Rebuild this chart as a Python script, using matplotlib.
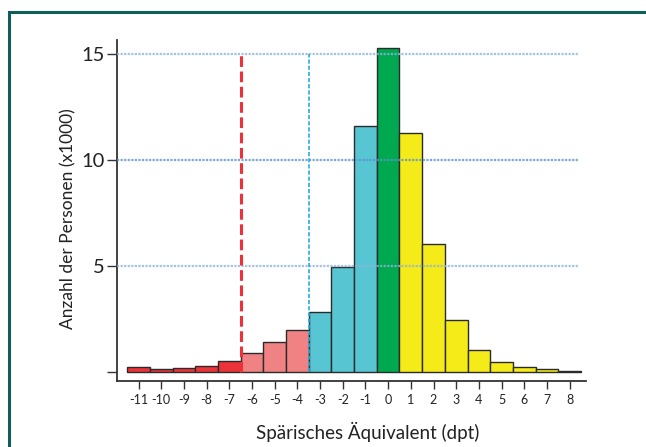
import numpy as np
import matplotlib
matplotlib.use("Agg")
import matplotlib.pyplot as plt
from matplotlib.patches import Rectangle

plt.rcParams['font.family'] = ['Lato', 'DejaVu Sans']

# Sphärisches Äquivalent (dpt) und Anzahl (x1000)
dpt = [-11, -10, -9, -8, -7, -6, -5, -4, -3, -2, -1, 0, 1, 2, 3, 4, 5, 6, 7, 8]
counts = [0.25, 0.13, 0.18, 0.30, 0.54, 0.89, 1.42, 2.00, 2.82, 4.97, 11.58, 15.25,
          11.28, 6.02, 2.47, 1.06, 0.49, 0.24, 0.14, 0.07]
groups = ['r'] * 5 + ['p'] * 3 + ['c'] * 3 + ['g'] + ['y'] * 8
group_colors = {'r': '#ec3339', 'p': '#f08283', 'c': '#58c5d2', 'g': '#00a84f', 'y': '#f5eb18'}

y_ticks = [0, 5, 10, 15]
y_ticklabels = ['', '5', '10', '15']
grid_levels = [5, 10, 15]
cut_red = -6.5
cut_blue = -3.5

fig = plt.figure(figsize=(6.46, 4.47), dpi=100)
ax = fig.add_axes([117 / 646, 1 - 381 / 447, (586 - 117) / 646, (381 - 40) / 447])

ax.bar(dpt, counts, width=1.0, color=[group_colors[g] for g in groups],
       edgecolor='#2b2b2b', linewidth=1.0, zorder=2)

for lvl in grid_levels:
    c = '#5a92d2' if lvl == 10 else '#8db4e2'
    ax.axhline(lvl, xmin=0, xmax=0.985, color=c, linestyle=(0, (1, 0.6)), linewidth=1.6,
               alpha=0.8, zorder=3)

ax.plot([cut_red, cut_red], [0, 15], color='#ee3039', linestyle=(0, (3.5, 1.5)), linewidth=2.2, zorder=4)
ax.plot([cut_blue, cut_blue], [0, 15], color='#2aa9e0', linestyle=(0, (2.5, 1.2)), linewidth=1.2, zorder=4)

ax.set_xlim(-11.95, 8.72)
ax.set_ylim(-0.42, 15.65)
ax.set_xticks(dpt)
ax.set_xticklabels([str(d) for d in dpt], fontsize=9, color='#222222')
ax.set_yticks(y_ticks)
ax.set_yticklabels(y_ticklabels, fontsize=14.5, color='#222222')
ax.tick_params(axis='x', length=6, width=1, color='#333333', pad=3)
ax.tick_params(axis='y', length=7, width=1, color='#333333', pad=2)

for s in ['top', 'right']:
    ax.spines[s].set_visible(False)
for s in ['left', 'bottom']:
    ax.spines[s].set_color('#333333')
    ax.spines[s].set_linewidth(1.3)

fig.text(68.5 / 646, 1 - 219 / 447, 'Anzahl der Personen (x1000)', rotation=90,
         ha='center', va='center', fontsize=12.5, color='#222222')
fig.text(368 / 646, 1 - 432 / 447, 'Spärisches Äquivalent (dpt)',
         ha='center', va='center', fontsize=13.5, color='#222222')

# Rahmen
fig.patches.append(Rectangle((8.5 / 646, -0.1), 1.2, 1 - 12.5 / 447 + 0.1,
                             transform=fig.transFigure, fill=False,
                             edgecolor='#0e5e5c', linewidth=2.2))

fig.savefig('out.png', dpi=100)
